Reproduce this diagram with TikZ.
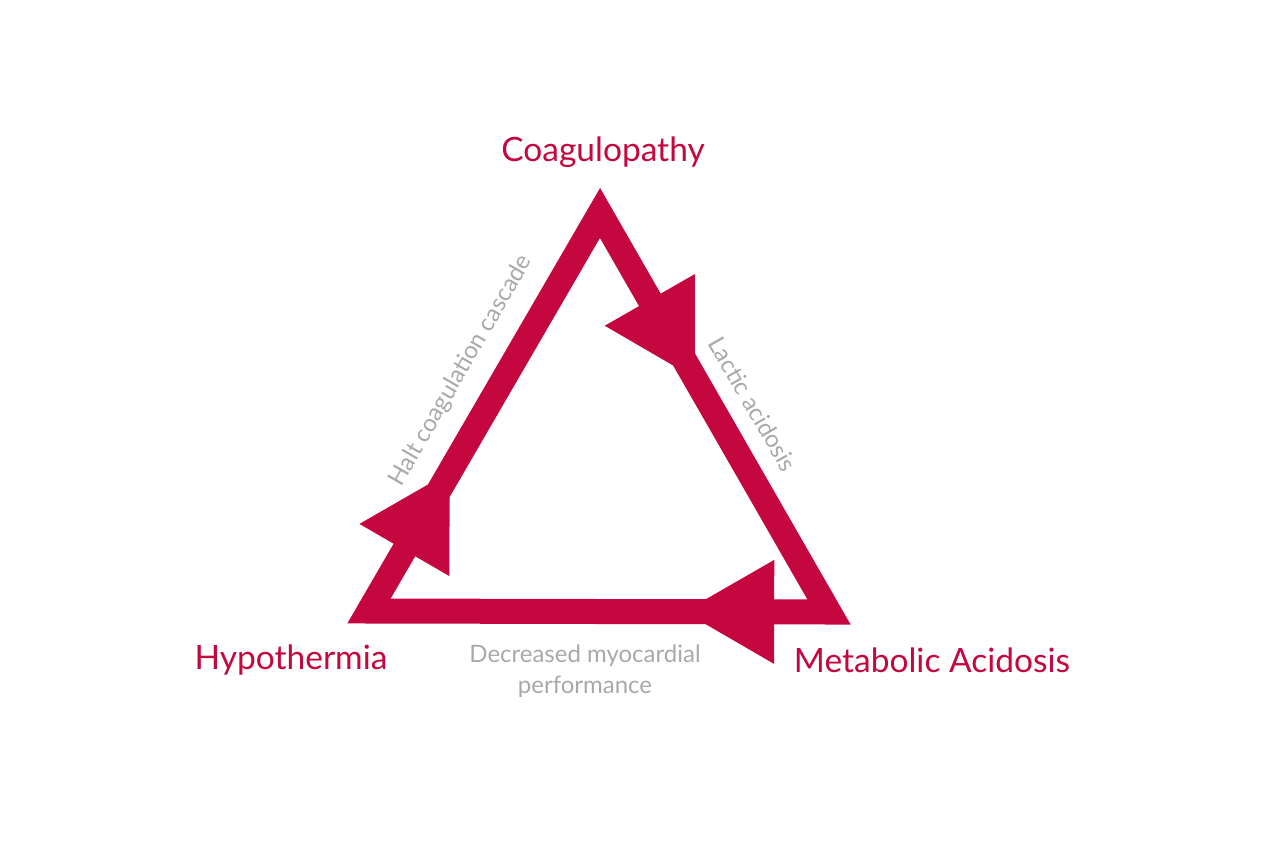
\documentclass[tikz,border=0pt]{standalone}
\usepackage{fontspec}
\setmainfont{Lato}
\usepackage{tikz}
\usetikzlibrary{calc}

\definecolor{trauma}{HTML}{C4073F}
\definecolor{note}{HTML}{A7A9AC}

\begin{document}
\begin{tikzpicture}[
  x=1pt, y=-1pt,
  loop/.style={draw=trauma, line width=25pt, line join=miter},
  head/.style={fill=trauma, draw=none},
  state/.style={text=trauma, font=\fontsize{33.5}{38}\selectfont, inner sep=0pt},
  cause/.style={text=note, font=\fontsize{24}{31}\selectfont, inner sep=0pt, align=center},
]
\useasboundingbox (0, 0) rectangle (1266, 862);

% --- Corners of the triad ---
\coordinate (coag) at (600, 213);
\coordinate (meta) at (829, 612);
\coordinate (hypo) at (369, 611);

% --- Triangle ---
\draw[loop] (coag) -- (meta) -- (hypo) -- cycle;

% --- Arrow heads ---
\coordinate (tipR) at ($(coag)!0.4135!(meta)$);
\coordinate (tipB) at ($(meta)!0.315!(hypo)$);
\coordinate (tipL) at ($(hypo)!0.349!(coag)$);
\fill[head] (tipR) -- ($(tipR)!104pt!30:(coag)$) -- ($(tipR)!104pt!-30:(coag)$) -- cycle;
\fill[head] (tipB) -- ($(tipB)!104pt!30:(meta)$) -- ($(tipB)!104pt!-30:(meta)$) -- cycle;
\fill[head] (tipL) -- ($(tipL)!104pt!30:(hypo)$) -- ($(tipL)!104pt!-30:(hypo)$) -- cycle;

% --- States ---
\node[state] (coagulopathy) at (603, 152) {Coagulopathy};
\node[state] (hypothermia)  at (291, 660) {Hypothermia};
\node[state] (acidosis)     at (932, 660) {Metabolic Acidosis};

% --- Causes ---
\node[cause, rotate=60]  (halt)    at (461, 371) {Halt coagulation cascade};
\node[cause, rotate=-60] (lactic)  at (753, 404) {Lactic acidosis};
\node[cause]             (myocard) at (585, 671) {Decreased myocardial\\performance};

\end{tikzpicture}
\end{document}
